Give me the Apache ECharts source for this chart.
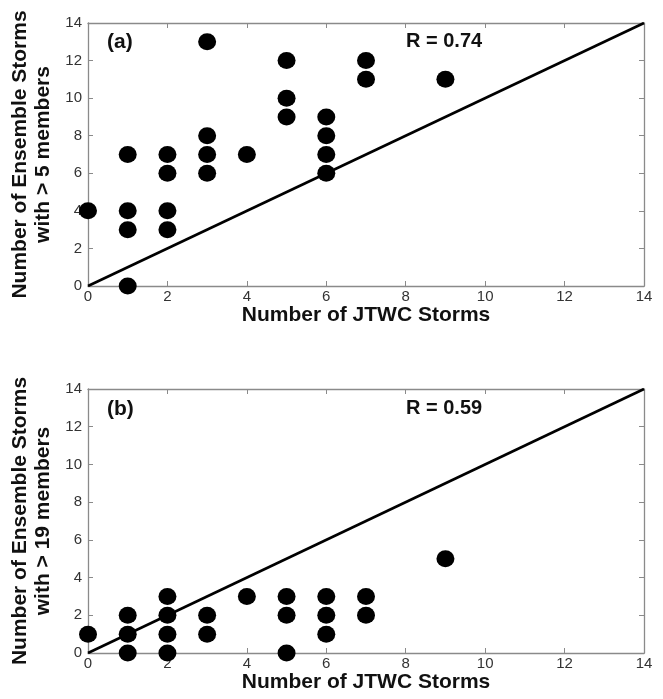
<!DOCTYPE html>
<html>
<head>
<meta charset="utf-8">
<script src="https://cdn.jsdelivr.net/npm/echarts@6/dist/echarts.min.js"></script>
<style>html,body{margin:0;padding:0;background:#fff}#c{width:663px;height:699px}</style>
</head>
<body>
<div id="c"></div>
<script>
// Panel (a): JTWC storms vs ensemble storms with > 5 members
const aX = [0, 1, 1, 1, 1, 2, 2, 2, 2, 3, 3, 3, 3, 4, 5, 5, 5, 6, 6, 6, 6, 7, 7, 9];
const aY = [4, 7, 4, 3, 0, 7, 6, 4, 3, 13, 8, 7, 6, 7, 12, 10, 9, 9, 8, 7, 6, 12, 11, 11];
// Panel (b): JTWC storms vs ensemble storms with > 19 members
const bX = [0, 1, 1, 1, 2, 2, 2, 2, 3, 3, 4, 5, 5, 5, 6, 6, 6, 7, 7, 9];
const bY = [1, 2, 1, 0, 3, 2, 1, 0, 2, 1, 3, 3, 2, 0, 3, 2, 1, 3, 2, 5];
// 1:1 reference line
const diag = [0, 14];
const axisMin = 0, axisMax = 14, axisStep = 2;
const labelA = "(a)", labelB = "(b)";
const rA = "R = 0.74", rB = "R = 0.59";
const xTitle = "Number of JTWC Storms";
const yTitleA = "Number of Ensemble Storms\nwith > 5 members";
const yTitleB = "Number of Ensemble Storms\nwith > 19 members";

const pts = (xs, ys) => xs.map((x, i) => [x, ys[i]]);
const FONT = "'Liberation Sans', Arial, sans-serif";
const TICKFONT = "'Liberation Sans Narrow', 'Arial Narrow', 'Liberation Sans', sans-serif";
const axisCol = '#8a8a8a';

function xAx(gi) {
  return [{
    type: 'value', gridIndex: gi, min: axisMin, max: axisMax, interval: axisStep,
    name: xTitle, nameLocation: 'middle', nameGap: 16,
    nameTextStyle: { fontFamily: FONT, fontWeight: 'bold', fontSize: 21, color: '#111' },
    axisLine: { show: true, onZero: false, lineStyle: { color: axisCol, width: 1.3 } },
    axisTick: { show: true, inside: true, length: 5, lineStyle: { color: axisCol } },
    axisLabel: { fontFamily: TICKFONT, fontSize: 15, color: '#333', margin: 3 },
    splitLine: { show: false }
  }, {
    type: 'value', gridIndex: gi, position: 'top', min: axisMin, max: axisMax, interval: axisStep,
    axisLine: { show: true, onZero: false, lineStyle: { color: axisCol, width: 1.3 } },
    axisTick: { show: true, inside: true, length: 5, lineStyle: { color: axisCol } },
    axisLabel: { show: false }, splitLine: { show: false }
  }];
}
function yAx(gi, title) {
  return [{
    type: 'value', gridIndex: gi, min: axisMin, max: axisMax, interval: axisStep,
    name: title, nameLocation: 'middle', nameGap: 26, nameRotate: 90,
    nameTextStyle: { fontFamily: FONT, fontWeight: 'bold', fontSize: 21, color: '#111', lineHeight: 23 },
    axisLine: { show: true, onZero: false, lineStyle: { color: axisCol, width: 1.3 } },
    axisTick: { show: true, inside: true, length: 5, lineStyle: { color: axisCol } },
    axisLabel: { fontFamily: TICKFONT, fontSize: 15, color: '#333', margin: 6 },
    splitLine: { show: false }
  }, {
    type: 'value', gridIndex: gi, position: 'right', min: axisMin, max: axisMax, interval: axisStep,
    axisLine: { show: true, onZero: false, lineStyle: { color: axisCol, width: 1.3 } },
    axisTick: { show: true, inside: true, length: 5, lineStyle: { color: axisCol } },
    axisLabel: { show: false }, splitLine: { show: false }
  }];
}

const chart = echarts.init(document.getElementById('c'));
chart.setOption({
  backgroundColor: '#fff',
  animation: false,
  grid: [
    { left: 88, width: 556, top: 23, height: 263 },
    { left: 88, width: 556, top: 389, height: 264 }
  ],
  xAxis: [...xAx(0), ...xAx(1)],
  yAxis: [...yAx(0, yTitleA), ...yAx(1, yTitleB)],
  series: [
    { type: 'line', xAxisIndex: 0, yAxisIndex: 0, data: [[diag[0], diag[0]], [diag[1], diag[1]]],
      symbol: 'none', lineStyle: { color: '#000', width: 2.6 }, z: 2 },
    { type: 'scatter', xAxisIndex: 0, yAxisIndex: 0, data: pts(aX, aY), symbolSize: [18, 17], clip: false,
      itemStyle: { color: '#000', opacity: 1 }, z: 3 },
    { type: 'line', xAxisIndex: 2, yAxisIndex: 2, data: [[diag[0], diag[0]], [diag[1], diag[1]]],
      symbol: 'none', lineStyle: { color: '#000', width: 2.6 }, z: 2 },
    { type: 'scatter', xAxisIndex: 2, yAxisIndex: 2, data: pts(bX, bY), symbolSize: [18, 17], clip: false,
      itemStyle: { color: '#000', opacity: 1 }, z: 3 }
  ],
  graphic: [
    { type: 'text', left: 107, top: 32, style: { text: labelA, font: "bold 21px " + FONT, fill: '#111' } },
    { type: 'text', left: 406, top: 31, style: { text: rA, font: "bold 20px " + FONT, fill: '#111' } },
    { type: 'text', left: 107, top: 399, style: { text: labelB, font: "bold 21px " + FONT, fill: '#111' } },
    { type: 'text', left: 406, top: 398, style: { text: rB, font: "bold 20px " + FONT, fill: '#111' } }
  ]
});
</script>
</body>
</html>
